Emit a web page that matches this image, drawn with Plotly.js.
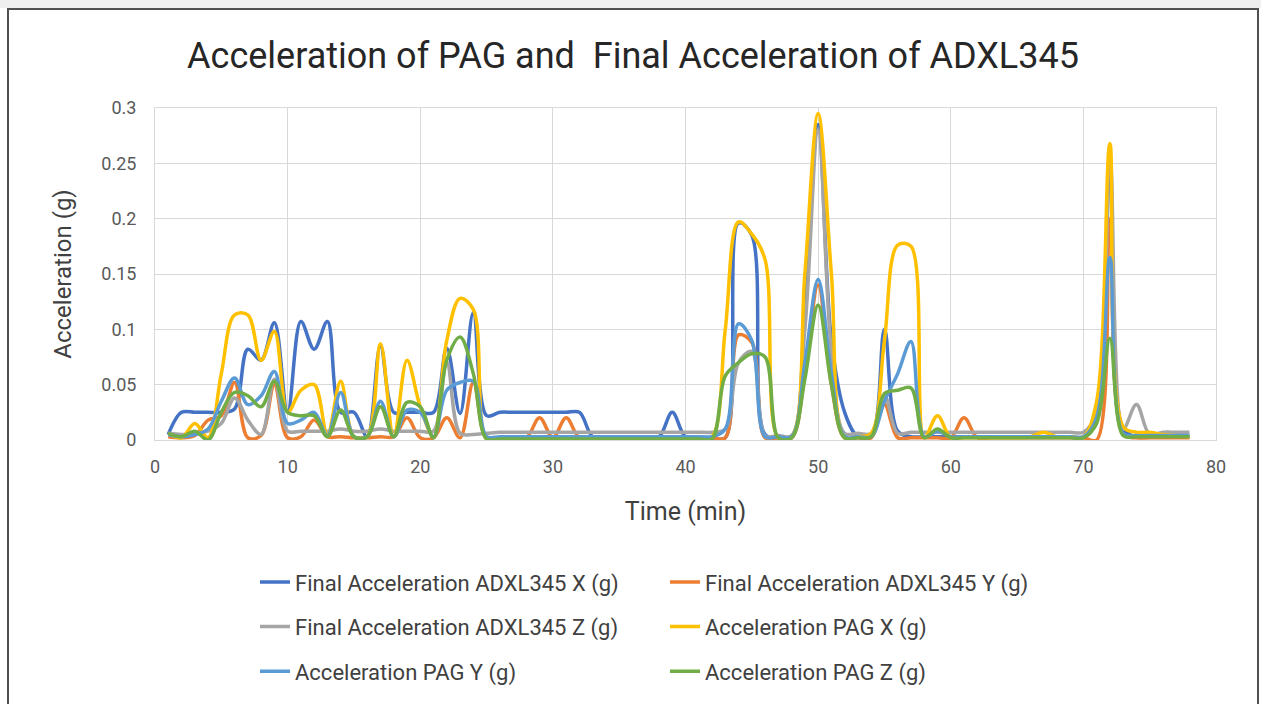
<!DOCTYPE html>
<html>
<head>
<meta charset="utf-8">
<script src="https://cdn.plot.ly/plotly-3.0.1.min.js"></script>
<style>
  html, body { margin: 0; padding: 0; background: #ffffff; }
  #wrap { position: relative; width: 1261px; height: 704px; overflow: hidden; }
  #chart { position: absolute; left: 0; top: 0; width: 1261px; height: 704px; }
  #topstrip { position: absolute; left: 0; top: 0; width: 1261px; height: 8px; background: #efefef; pointer-events: none; }
  #frame { position: absolute; left: 7px; top: 8px; width: 1248px; height: 700px; border: 2px solid #505050; border-bottom: none; pointer-events: none; }
</style>
</head>
<body>
<div id="wrap">
  <div id="chart"></div>
  <div id="topstrip"></div>
  <div id="frame"></div>
</div>
<script>
// Time (min)
const timeMin = [1,2,3,4,5,6,7,8,9,10,11,12,13,14,15,16,17,18,19,20,
  21,22,23,24,25,26,27,28,29,30,31,32,33,34,35,36,37,38,39,40,
  41,42,43,44,45,46,47,48,49,50,51,52,53,54,55,56,57,58,59,60,
  61,62,63,64,65,66,67,68,69,70,71,72,73,74,75,76,77,78];

// Final Acceleration ADXL345 X (g)
const adxlX = [0.005,0.025,0.025,0.025,0.025,0.028,0.082,0.072,0.106,0.025,
  0.107,0.082,0.107,0.025,0.025,0.003,0.085,0.025,0.025,0.025,
  0.025,0.083,0.024,0.115,0.022,0.025,0.025,0.025,0.025,0.025,
  0.025,0.025,0.003,0.003,0.003,0.003,0.003,0.003,0.025,0.003,
  0.003,0.002,0.002,0.196,0.185,0.005,0.002,0.002,0.12,0.285,
  0.09,0.025,0.003,0.003,0.1,0.008,0.003,0.003,0.003,0.003,
  0.003,0.003,0.003,0.003,0.003,0.003,0.003,0.003,0.003,0.003,
  0.02,0.25,0.01,0.003,0.003,0.003,0.003,0.003];

// Final Acceleration ADXL345 Y (g)
const adxlY = [0.003,0.002,0.004,0.018,0.022,0.052,0.002,0.004,0.05,0.002,
  0.003,0.018,0.003,0.003,0.002,0.002,0.003,0.003,0.02,0.002,
  0.002,0.02,0.002,0.052,0.001,0.001,0.002,0.002,0.02,0.002,
  0.02,0.002,0.002,0.002,0.002,0.002,0.002,0.002,0.002,0.002,
  0.002,0.002,0.002,0.095,0.088,0.002,0.002,0.002,0.06,0.14,
  0.05,0.002,0.002,0.002,0.032,0.002,0.002,0.002,0.002,0.002,
  0.02,0.002,0.002,0.002,0.002,0.002,0.002,0.002,0.002,0.002,
  0.0,0.2,0.005,0.002,0.002,0.002,0.002,0.002];

// Final Acceleration ADXL345 Z (g)
const adxlZ = [0.006,0.005,0.006,0.008,0.015,0.038,0.018,0.005,0.055,0.008,
  0.008,0.008,0.008,0.01,0.008,0.008,0.01,0.008,0.008,0.008,
  0.008,0.07,0.006,0.005,0.006,0.007,0.007,0.007,0.007,0.007,
  0.007,0.007,0.007,0.007,0.007,0.007,0.007,0.007,0.007,0.007,
  0.007,0.007,0.01,0.07,0.08,0.004,0.004,0.004,0.1,0.28,
  0.08,0.006,0.006,0.006,0.04,0.006,0.007,0.007,0.007,0.007,
  0.007,0.007,0.007,0.007,0.007,0.007,0.007,0.007,0.007,0.007,
  0.025,0.255,0.01,0.032,0.005,0.007,0.007,0.007];

// Acceleration PAG X (g)
const pagX = [0.006,0.002,0.015,0.002,0.06,0.113,0.113,0.072,0.098,0.025,
  0.045,0.05,0.005,0.053,0.003,0.003,0.087,0.003,0.072,0.03,
  0.003,0.09,0.128,0.118,0.001,0.002,0.002,0.002,0.002,0.002,
  0.002,0.002,0.002,0.002,0.002,0.002,0.002,0.002,0.002,0.002,
  0.002,0.003,0.1,0.197,0.186,0.163,0.002,0.003,0.15,0.295,
  0.15,0.002,0.003,0.006,0.09,0.176,0.175,0.002,0.022,0.002,
  0.002,0.002,0.002,0.002,0.002,0.003,0.007,0.003,0.003,0.003,
  0.035,0.268,0.012,0.007,0.007,0.005,0.004,0.003];

// Acceleration PAG Y (g)
const pagY = [0.005,0.003,0.005,0.01,0.035,0.056,0.032,0.04,0.062,0.015,
  0.018,0.025,0.004,0.043,0.003,0.003,0.035,0.003,0.027,0.025,
  0.003,0.045,0.052,0.053,0.003,0.003,0.003,0.003,0.003,0.003,
  0.003,0.003,0.003,0.003,0.003,0.003,0.003,0.003,0.003,0.003,
  0.003,0.003,0.01,0.105,0.09,0.003,0.003,0.003,0.07,0.145,
  0.06,0.003,0.003,0.003,0.035,0.06,0.089,0.003,0.008,0.003,
  0.003,0.003,0.003,0.003,0.003,0.003,0.003,0.003,0.003,0.003,
  0.02,0.165,0.006,0.004,0.004,0.004,0.004,0.004];

// Acceleration PAG Z (g)
const pagZ = [0.006,0.003,0.008,0.0,0.025,0.043,0.04,0.03,0.053,0.025,
  0.022,0.022,0.003,0.027,0.003,0.003,0.03,0.003,0.034,0.03,
  0.002,0.072,0.093,0.06,0.001,0.001,0.001,0.001,0.001,0.001,
  0.001,0.001,0.001,0.001,0.001,0.001,0.001,0.001,0.001,0.001,
  0.001,0.001,0.058,0.07,0.078,0.075,0.002,0.002,0.055,0.122,
  0.05,0.002,0.002,0.003,0.042,0.045,0.047,0.002,0.01,0.002,
  0.002,0.002,0.002,0.002,0.002,0.002,0.002,0.002,0.002,0.002,
  0.015,0.092,0.004,0.003,0.003,0.003,0.003,0.003];

const seriesNames = ["Final Acceleration ADXL345 X (g)", "Final Acceleration ADXL345 Y (g)",
  "Final Acceleration ADXL345 Z (g)", "Acceleration PAG X (g)",
  "Acceleration PAG Y (g)", "Acceleration PAG Z (g)"];
const seriesValues = [adxlX, adxlY, adxlZ, pagX, pagY, pagZ];
const seriesColors = ["#4472C4", "#ED7D31", "#A5A5A5", "#FFC000", "#5B9BD5", "#70AD47"];
const seriesLegend = ["legend", "legend2", "legend", "legend2", "legend", "legend2"];

const yTickVals = [0, 0.05, 0.1, 0.15, 0.2, 0.25, 0.3];
const yTickText = ["0", "0.05", "0.1", "0.15", "0.2", "0.25", "0.3"];
const xTickVals = [0, 10, 20, 30, 40, 50, 60, 70, 80];
const xTickText = ["0", "10", "20", "30", "40", "50", "60", "70", "80"];

const FONT = "Roboto, 'Open Sans', sans-serif";

const traces = seriesValues.map((vals, i) => ({
  type: "scatter",
  mode: "lines",
  x: timeMin,
  y: vals,
  name: seriesNames[i],
  legend: seriesLegend[i],
  legendgroup: "g" + i,
  line: { color: seriesColors[i], width: 3.5, shape: "spline", smoothing: 1 },
  cliponaxis: true
}));

const legendBase = {
  orientation: "v",
  xanchor: "left",
  yanchor: "top",
  y: -0.365,
  bgcolor: "rgba(0,0,0,0)",
  font: { family: FONT, size: 22, color: "#404040" },
  tracegroupgap: 13,
  itemwidth: 30
};

const layout = {
  width: 1261,
  height: 704,
  paper_bgcolor: "#ffffff",
  plot_bgcolor: "#ffffff",
  margin: { l: 155, r: 45, t: 108, b: 264, pad: 0, autoexpand: false },
  font: { family: FONT, color: "#595959" },
  title: {
    text: "Acceleration of PAG and  Final Acceleration of ADXL345",
    font: { family: FONT, size: 36, color: "#262626" },
    x: 0.502, xanchor: "center",
    y: 1 - 55 / 704, yanchor: "middle", yref: "container"
  },
  showlegend: true,
  legend: Object.assign({}, legendBase, { x: (255 - 155) / 1061 }),
  legend2: Object.assign({}, legendBase, { x: (665 - 155) / 1061 }),
  xaxis: {
    range: [0, 80],
    tickvals: xTickVals,
    ticktext: xTickText,
    tickfont: { family: FONT, size: 18, color: "#595959" },
    showgrid: true,
    gridcolor: "#d9d9d9",
    gridwidth: 1,
    zeroline: false,
    showline: true,
    linecolor: "#d9d9d9",
    linewidth: 1,
    mirror: true,
    ticks: "",
    automargin: false,
    ticklabelstandoff: 10,
    title: { text: "Time (min)", font: { family: FONT, size: 25, color: "#404040" }, standoff: 26 }
  },
  yaxis: {
    range: [0, 0.3],
    tickvals: yTickVals,
    ticktext: yTickText,
    tickfont: { family: FONT, size: 18, color: "#595959" },
    showgrid: true,
    gridcolor: "#d9d9d9",
    gridwidth: 1,
    zeroline: false,
    showline: true,
    linecolor: "#d9d9d9",
    linewidth: 1,
    mirror: true,
    ticks: "",
    automargin: false,
    ticklabelstandoff: 14,
    title: { text: "Acceleration (g)", font: { family: FONT, size: 24, color: "#404040" }, standoff: 22 }
  }
};

Plotly.newPlot("chart", traces, layout, { staticPlot: true, displayModeBar: false });
</script>
</body>
</html>
